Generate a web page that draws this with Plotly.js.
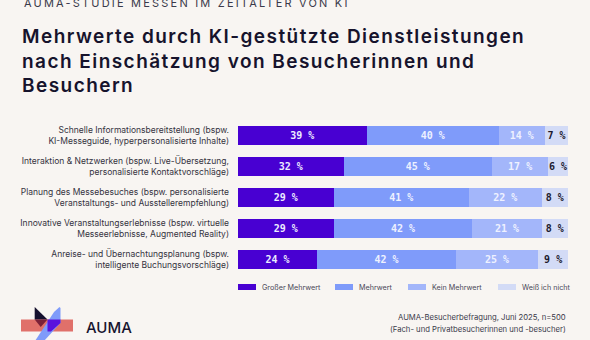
<!DOCTYPE html>
<html>
<head>
<meta charset="utf-8">
<script src="https://cdn.plot.ly/plotly-3.0.1.min.js"></script>
<style>html,body{margin:0;padding:0;background:#f8f5f2;}#chart{width:590px;height:340px;}</style>
</head>
<body>
<div id="chart"></div>
<script>
// ---- data ----
const categories = [
  "Schnelle Informationsbereitstellung (bspw.<br>KI-Messeguide, hyperpersonalisierte Inhalte)",
  "Interaktion & Netzwerken (bspw. Live-Übersetzung,<br>personalisierte Kontaktvorschläge)",
  "Planung des Messebesuches (bspw. personalisierte<br>Veranstaltungs- und Ausstellerempfehlung)",
  "Innovative Veranstaltungserlebnisse (bspw. virtuelle<br>Messeerlebnisse, Augmented Reality)",
  "Anreise- und Übernachtungsplanung (bspw.<br>intelligente Buchungsvorschläge)"
];
const seriesNames = ["Großer Mehrwert", "Mehrwert", "Kein Mehrwert", "Weiß ich nicht"];
const grosserMehrwert = [39, 32, 29, 29, 24];
const mehrwert = [40, 45, 41, 42, 42];
const keinMehrwert = [14, 17, 22, 21, 25];
const weissNicht = [7, 6, 8, 8, 9];
const seriesValues = [grosserMehrwert, mehrwert, keinMehrwert, weissNicht];
const colors = ["#4800d2", "#7f9bfa", "#a3b6fa", "#d3dbf6"];
const textColors = ["#ecebff", "#eef1ff", "#eef1ff", "#1c1a2e"];
const sourceLines = ["AUMA-Besucherbefragung, Juni 2025, n=500", "(Fach- und Privatbesucherinnen und -besucher)"];

const W = 590, H = 340, ML = 238, MR = 22, MT = 120, MB = 65;
const PW = W - ML - MR, PH = H - MT - MB;
const px = x => (x - ML) / PW;
const py = y => (H - MB - y) / PH;

const traces = seriesValues.map((vals, i) => ({
  type: "bar",
  orientation: "h",
  name: seriesNames[i],
  y: categories,
  x: vals,
  text: vals.map(v => v + " %"),
  textposition: "inside",
  insidetextanchor: "middle",
  textangle: 0,
  constraintext: "none",
  textfont: {family: "DejaVu Sans Mono", size: 10, color: textColors[i], weight: 700},
  marker: {color: colors[i], line: {width: 0}},
  width: 0.6,
  hoverinfo: "none",
  showlegend: false
}));

// legend (custom swatches)
const legendX = [238, 335, 408, 498];
const legendY = 287;
const shapes = [];
const annotations = [];
seriesNames.forEach((n, i) => {
  shapes.push({type: "rect", xref: "paper", yref: "paper", x0: px(legendX[i]), x1: px(legendX[i] + 18), y0: py(legendY + 3), y1: py(legendY - 3), fillcolor: colors[i], line: {width: 0}});
  annotations.push({xref: "paper", yref: "paper", x: px(legendX[i] + 22), y: py(legendY), xanchor: "left", yanchor: "middle", text: n, showarrow: false, font: {family: "Inter", size: 7.2, color: "#4a4858"}});
});

// subtitle
const subtitle = "AUMA-STUDIE MESSEN IM ZEITALTER VON KI";
annotations.push({xref: "paper", yref: "paper", x: px(22), y: py(2.5), xanchor: "left", yanchor: "middle", showarrow: false,
  text: subtitle, font: {family: "Inter", size: 11, color: "#3a3a4a"}});

// footer
sourceLines.forEach((s, i) => {
  annotations.push({xref: "paper", yref: "paper", x: px(568), y: py(317.5 + 12 * i), xanchor: "right", yanchor: "middle", showarrow: false,
    text: s, font: {family: "Inter", size: 7.7, color: "#3a3a4a"}});
});

// logo
annotations.push({xref: "paper", yref: "paper", x: px(84), y: py(327), xanchor: "left", yanchor: "middle", showarrow: false,
  text: "AUMA", font: {family: "Inter", size: 15, color: "#17142e", weight: 500}});
const poly = (pts, color) => ({type: "path", xref: "paper", yref: "paper",
  path: "M" + pts.map(p => px(p[0]) + "," + py(p[1])).join(" L") + " Z", fillcolor: color, line: {width: 0}});
shapes.push({type: "rect", xref: "paper", yref: "paper", x0: px(21), x1: px(73), y0: py(331.5), y1: py(319.5), fillcolor: "#e0706a", line: {width: 0}});
shapes.push(poly([[54, 312], [59.5, 307], [60.5, 308], [60.5, 323], [44, 341], [35, 341]], "#7f9bfa"));
shapes.push(poly([[34.7, 307], [47.5, 319.5], [34.7, 319.5]], "#15102e"));
shapes.push(poly([[34.7, 319.5], [47.5, 319.5], [40.7, 327]], "#7a2038"));
shapes.push(poly([[47.5, 319.5], [60.5, 319.5], [60.5, 323], [51, 331.5], [47.5, 331.5]], "#5a12dc"));

const layout = {
  width: W, height: H,
  paper_bgcolor: "#f8f5f2", plot_bgcolor: "#f8f5f2",
  margin: {l: ML, r: MR, t: MT, b: MB, pad: 0},
  barmode: "stack",
  bargap: 0.4,
  title: {
    text: "Mehrwerte durch KI-gestützte Dienstleistungen<br>nach Einschätzung von Besucherinnen und<br>Besuchern",
    xref: "container", yref: "container", x: 22 / W, xanchor: "left", y: 1 - 43 / H, yanchor: "top",
    font: {family: "Inter", size: 19, color: "#16132c", weight: 600}
  },
  xaxis: {range: [0, 100], visible: false, fixedrange: true},
  yaxis: {autorange: "reversed", showgrid: false, zeroline: false, showline: false, ticks: "", ticklabelstandoff: 8,
    tickfont: {family: "Inter", size: 8.5, color: "#35333f"}, fixedrange: true},
  shapes: shapes,
  annotations: annotations,
  showlegend: false
};

Plotly.newPlot("chart", traces, layout, {displayModeBar: false, staticPlot: true}).then(gd => {
  // typographic letter-spacing as in the original design
  gd.querySelectorAll(".gtitle").forEach(t => t.style.letterSpacing = "1.45px");
  gd.querySelectorAll(".annotation-text").forEach(t => {
    if (t.textContent === subtitle) {
      const b0 = t.getBBox();
      t.style.letterSpacing = "2.2px";
      const b1 = t.getBBox();
      t.setAttribute("x", parseFloat(t.getAttribute("x") || 0) + (b0.x - b1.x));
    }
  });
});
</script>
</body>
</html>
